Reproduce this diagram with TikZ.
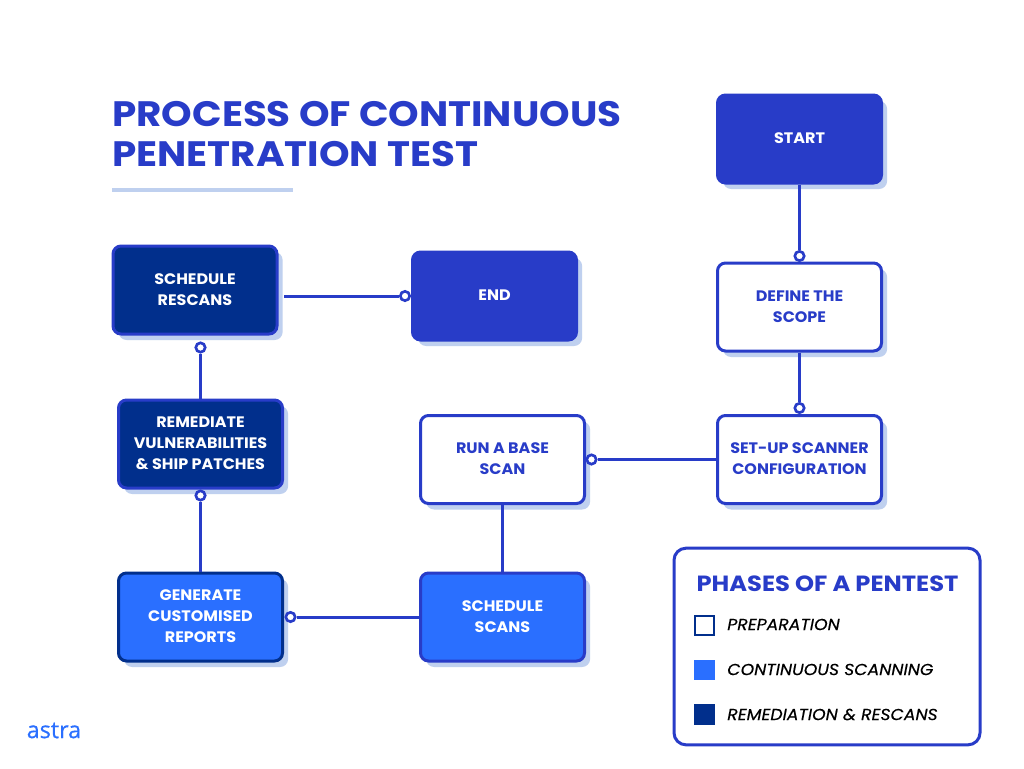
\documentclass[tikz,border=0pt]{standalone}
\usepackage{fontspec}
\setmainfont{Poppins}
\newfontfamily\logofont[FakeBold=0.5]{Open Sans}
\newfontfamily\titlefont[FakeStretch=1.1]{Poppins}
\newfontfamily\boxfont[FakeStretch=1.05]{Poppins}
\newfontfamily\legendfont[FakeStretch=1.08,FakeBold=0.25]{Poppins}
\usetikzlibrary{shadows}
\definecolor{royal}{HTML}{283CC8}
\definecolor{navy}{HTML}{012F8C}
\definecolor{bright}{HTML}{2A6FFF}
\definecolor{pale}{HTML}{BFD0EF}
\newcommand\lines[1]{\begin{tabular}{@{}c@{}}#1\\[-0.6pt]\end{tabular}}
\tikzset{
  x=0.75pt,y=-0.75pt,
  flowbox/.style={rectangle,rounded corners=6pt,line width=2.25pt,draw=royal,minimum width=123pt,minimum height=66pt,
    inner sep=0pt,align=center,font=\fontsize{11.4}{15.8}\boxfont\bfseries,
    general shadow={fill=pale,shadow xshift=4.2pt,shadow yshift=-4.5pt}},
  prep/.style={flowbox,fill=white,text=royal},
  scanbox/.style={flowbox,fill=bright,text=white,draw=navy},
  scanboxb/.style={flowbox,fill=bright,text=white},
  remed/.style={flowbox,fill=navy,text=white},
  terminal/.style={flowbox,fill=royal,text=white},
  dot/.style={circle,draw=royal,fill=white,line width=2pt,minimum size=7pt,inner sep=0pt},
  link/.style={draw=royal,line width=2.25pt},
  swatch/.style={rectangle,minimum size=15.5pt,inner sep=0pt},
  legendtext/.style={anchor=west,inner sep=0pt,font=\fontsize{12}{14}\legendfont\itshape,text=black},
}
\begin{document}
\begin{tikzpicture}
\useasboundingbox (0,0) rectangle (1024,768);
\fill[white] (0,0) rectangle (1024,768);

\node[anchor=west,inner sep=0pt,text=royal,align=left,font=\fontsize{26.5}{30}\titlefont\bfseries] (title) at (112,134) {PROCESS OF CONTINUOUS\\PENETRATION TEST};
\coordinate (ruleA) at (112,190);
\coordinate (ruleB) at (293,190);
\draw[pale,line width=3pt] (ruleA) -- (ruleB);

\node[terminal] (start) at (799.5,139) {\lines{START}};
\node[prep] (scope) at (799.5,307) {\lines{DEFINE THE\\SCOPE}};
\node[prep] (setup) at (799.5,459.5) {\lines{SET-UP SCANNER\\CONFIGURATION}};
\node[prep] (base) at (502.5,459.5) {\lines{RUN A BASE\\SCAN}};
\node[scanboxb] (scans) at (502.5,617) {\lines{SCHEDULE\\SCANS}};
\node[scanbox] (reports) at (200.5,617) {\lines{GENERATE\\CUSTOMISED\\REPORTS}};
\node[remed] (remediate) at (200.5,444) {\lines{REMEDIATE\\VULNERABILITIES\\\& SHIP PATCHES}};
\node[remed] (rescans) at (195,290) {\lines{SCHEDULE\\RESCANS}};
\node[terminal] (end) at (494.5,296) {\lines{END}};

\node[dot] (d1) at (799.5,256) {};
\node[dot] (d2) at (799.5,408) {};
\node[dot] (d3) at (591.5,459.5) {};
\node[dot] (d4) at (290.5,617) {};
\node[dot] (d5) at (200.5,495.5) {};
\node[dot] (d6) at (200.5,347.5) {};
\node[dot] (d7) at (405,296) {};

\draw[link] (start.south) -- (d1);
\draw[link] (scope.south) -- (d2);
\draw[link] (setup.west) -- (d3);
\draw[link] (base.south) -- (scans.north);
\draw[link] (scans.west) -- (d4);
\draw[link] (reports.north) -- (d5);
\draw[link] (remediate.north) -- (d6);
\draw[link] ([xshift=4.2pt]rescans.east |- d7) -- (d7);

\node[rectangle,draw=royal,fill=white,line width=2.25pt,rounded corners=9pt,minimum width=229.5pt,minimum height=147.5pt,inner sep=0pt] (legend) at (827,646.5) {};
\node[inner sep=0pt,text=royal,font=\fontsize{16.5}{20}\titlefont\bfseries] (ltitle) at (827.5,584) {PHASES OF A PENTEST};
\node[swatch,fill=white,draw=navy,line width=1.2pt,minimum size=14.5pt] (s1) at (704.5,625.5) {};
\node[swatch,fill=bright] (s2) at (704.5,670) {};
\node[swatch,fill=navy] (s3) at (704.5,714.5) {};
\node[legendtext] (l1) at (727,624.5) {PREPARATION};
\node[legendtext] (l2) at (727,669.5) {CONTINUOUS SCANNING};
\node[legendtext] (l3) at (727,714.5) {REMEDIATION \& RESCANS};

\node[anchor=west,inner sep=0pt,text=bright,font=\fontsize{17.5}{22}\logofont] (logo) at (26.5,730.5) {astra};
\end{tikzpicture}
\end{document}
